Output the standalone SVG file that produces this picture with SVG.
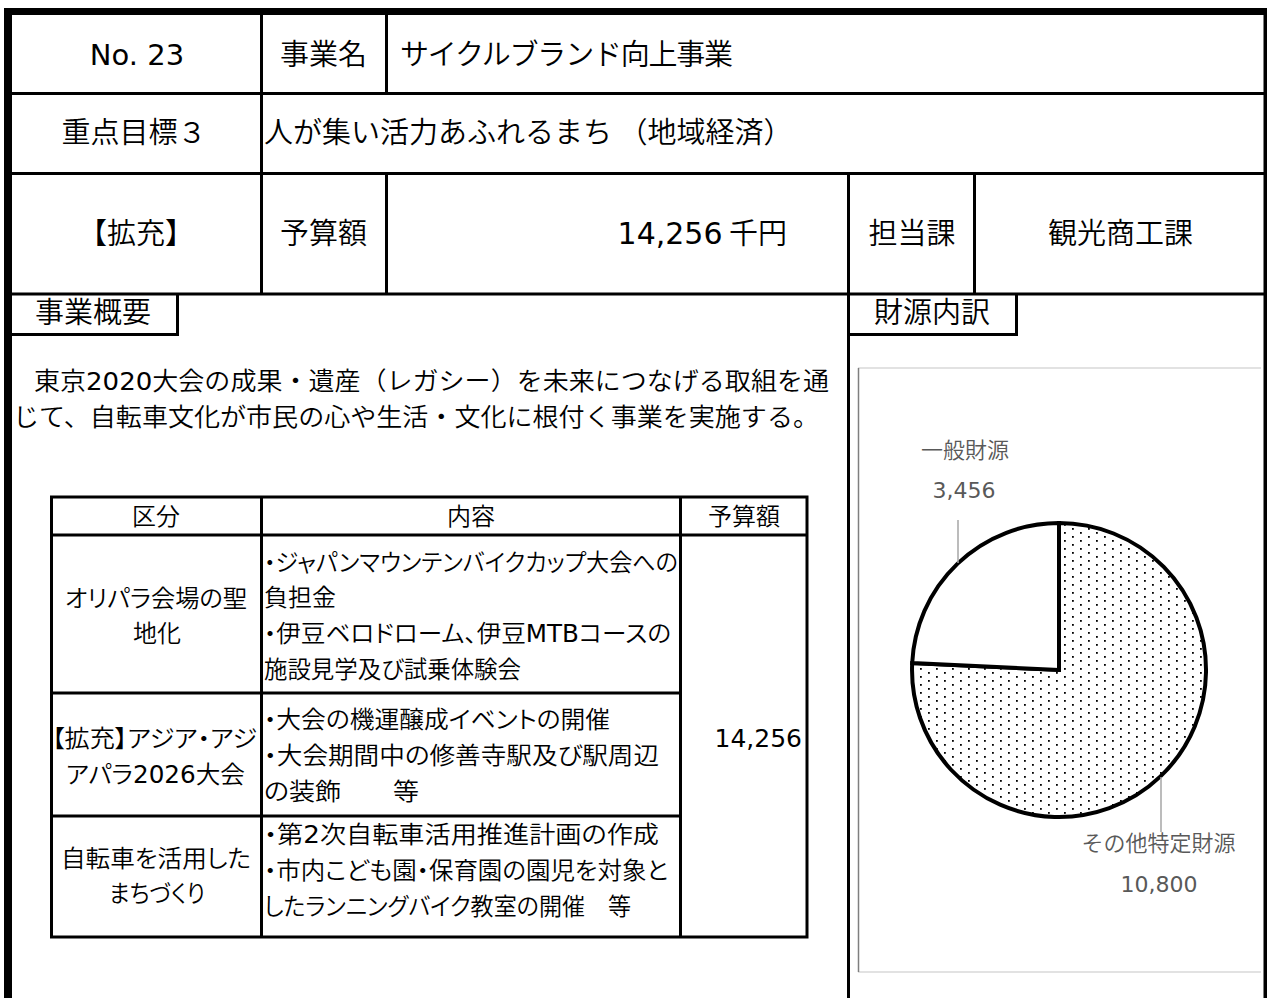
<svg xmlns="http://www.w3.org/2000/svg" width="1267" height="998" viewBox="0 0 1267 998">
<style>
text { font-family: "Noto Sans CJK JP", sans-serif; fill: #000; font-weight: 350; }
.d { font-family: "DejaVu Sans", sans-serif; font-weight: 400; }
.h { font-size: 29px; }
.s { font-size: 24px; font-feature-settings: "palt"; }
.p { font-size: 25px; }
.c { font-size: 22px; fill: #595959; }
.ln { stroke: #000; stroke-width: 3; fill: none; }
.lead { stroke: #a6a6a6; stroke-width: 1.5; fill: none; }
</style>
<defs>
<pattern id="dots" patternUnits="userSpaceOnUse" width="16" height="8">
<rect x="0" y="0" width="1.8" height="1.8" fill="#000"/>
<rect x="8" y="4" width="1.8" height="1.8" fill="#000"/>
</pattern>
</defs>
<rect width="1267" height="998" fill="#fff"/>

<g id="frame">
<rect x="4" y="8" width="1263" height="7" fill="#000"/>
<rect x="4" y="8" width="8" height="990" fill="#000"/>
<rect x="1263.5" y="8" width="3.5" height="990" fill="#000"/>
<path class="ln" d="M12 93.5H1264 M12 173.5H1264 M12 294H1264 M261.5 15V294 M386.5 15V93.5 M386.5 173.5V294 M848.5 173.5V998 M974.5 173.5V294 M177.5 294V336 M12 334.5H179 M1016.5 294V336 M848.5 334.5H1018"/>
</g>

<g id="header">
<text class="h d" x="137" y="65" text-anchor="middle" font-size="30">No. 23</text>
<text class="h" x="323.5" y="65" text-anchor="middle">事業名</text>
<text class="h" x="400" y="65" textLength="333">サイクルブランド向上事業</text>
<text class="h" x="134" y="143" text-anchor="middle">重点目標３</text>
<text class="h" x="264" y="143">人が集い活力あふれるまち （地域経済）</text>
<text class="h" x="136" y="243.5" text-anchor="middle">【拡充】</text>
<text class="h" x="323.5" y="243.5" text-anchor="middle">予算額</text>
<text class="h" x="787" y="243.5" text-anchor="end"><tspan class="d" font-size="30">14,256</tspan>  千円</text>
<text class="h" x="912" y="243.5" text-anchor="middle">担当課</text>
<text class="h" x="1120.5" y="244" text-anchor="middle" font-size="31">観光商工課</text>
<text class="h" x="93" y="323" text-anchor="middle" font-size="28">事業概要</text>
<text class="h" x="932" y="323" text-anchor="middle" font-size="28">財源内訳</text>
</g>

<g id="summary">
<text class="p" x="34" y="389.5" textLength="795" lengthAdjust="spacingAndGlyphs">東京<tspan class="d">2020</tspan>大会の成果・遺産（レガシー）を未来につなげる取組を通</text>
<text class="p" x="13" y="426" textLength="806" lengthAdjust="spacingAndGlyphs">じて、自転車文化が市民の心や生活・文化に根付く事業を実施する。</text>
</g>

<g id="table">
<rect class="ln" x="51.5" y="497" width="755.5" height="440"/>
<path class="ln" d="M51.5 535H807 M51.5 693H680.5 M51.5 816H680.5 M261.5 497V937 M680.5 497V937"/>
<text class="s" x="156" y="524.5" text-anchor="middle">区分</text>
<text class="s" x="471" y="524.5" text-anchor="middle">内容</text>
<text class="s" x="744" y="524.5" text-anchor="middle">予算額</text>

<text class="s" x="65" y="606.5" textLength="182" lengthAdjust="spacingAndGlyphs">オリパラ会場の聖</text>
<text class="s" x="157" y="641.5" text-anchor="middle">地化</text>
<text class="s" x="264" y="570.5" textLength="414" lengthAdjust="spacingAndGlyphs">・ジャパンマウンテンバイクカップ大会への</text>
<text class="s" x="264" y="605.5">負担金</text>
<text class="s" x="264" y="641.5" textLength="407" lengthAdjust="spacingAndGlyphs">・伊豆ベロドローム、伊豆<tspan class="d">MTB</tspan>コースの</text>
<text class="s" x="264" y="677.5" textLength="257" lengthAdjust="spacingAndGlyphs">施設見学及び試乗体験会</text>

<text class="s" x="52" y="746.5" textLength="205" lengthAdjust="spacingAndGlyphs">【拡充】アジア・アジ</text>
<text class="s" x="66" y="782.5" textLength="179" lengthAdjust="spacingAndGlyphs">アパラ<tspan class="d">2026</tspan>大会</text>
<text class="s" x="264" y="727.5" textLength="346" lengthAdjust="spacingAndGlyphs">・大会の機運醸成イベントの開催</text>
<text class="s" x="264" y="763.5" textLength="395" lengthAdjust="spacingAndGlyphs">・大会期間中の修善寺駅及び駅周辺</text>
<text class="s" x="264" y="799.5" textLength="155" lengthAdjust="spacingAndGlyphs">の装飾　　等</text>
<text class="d" x="802" y="747" text-anchor="end" font-size="25">14,256</text>

<text class="s" x="61" y="866.5" textLength="190" lengthAdjust="spacingAndGlyphs">自転車を活用した</text>
<text class="s" x="109" y="901.5" textLength="96" lengthAdjust="spacingAndGlyphs">まちづくり</text>
<text class="s" x="264" y="842.5" textLength="395" lengthAdjust="spacingAndGlyphs">・第<tspan class="d">2</tspan>次自転車活用推進計画の作成</text>
<text class="s" x="264" y="878.5" textLength="404" lengthAdjust="spacingAndGlyphs">・市内こども園・保育園の園児を対象と</text>
<text class="s" x="264" y="914.5" textLength="367" lengthAdjust="spacingAndGlyphs">したランニングバイク教室の開催　等</text>
</g>

<g id="chart">
<path d="M858 368H1261 M858 972H1261" stroke="#d9d9d9" stroke-width="1.5" fill="none"/>
<path d="M858.5 368V972" stroke="#7f7f7f" stroke-width="1.5" fill="none"/>
<g id="slice-other">
<path d="M1059 670 L1059 523 A147 147 0 1 1 912.2 663 Z" fill="#fff"/>
<path d="M1059 670 L1059 523 A147 147 0 1 1 912.2 663 Z" fill="url(#dots)" stroke="#000" stroke-width="4" stroke-linejoin="miter"/>
</g>
<g id="slice-general">
<path d="M1059 670 L1059 523 A147 147 0 0 0 912.2 663 Z" fill="#fff" stroke="#000" stroke-width="4" stroke-linejoin="miter"/>
</g>
</g>

<g id="connectors">
<path class="lead" d="M958 520V563"/>
<path class="lead" d="M1161 777V832"/>
</g>

<g id="labels">
<text class="c" x="965" y="458" text-anchor="middle">一般財源</text>
<text class="c d" x="964" y="498" text-anchor="middle">3,456</text>
<text class="c" x="1158.5" y="851" text-anchor="middle">その他特定財源</text>
<text class="c d" x="1159" y="892" text-anchor="middle">10,800</text>
</g>
</svg>
